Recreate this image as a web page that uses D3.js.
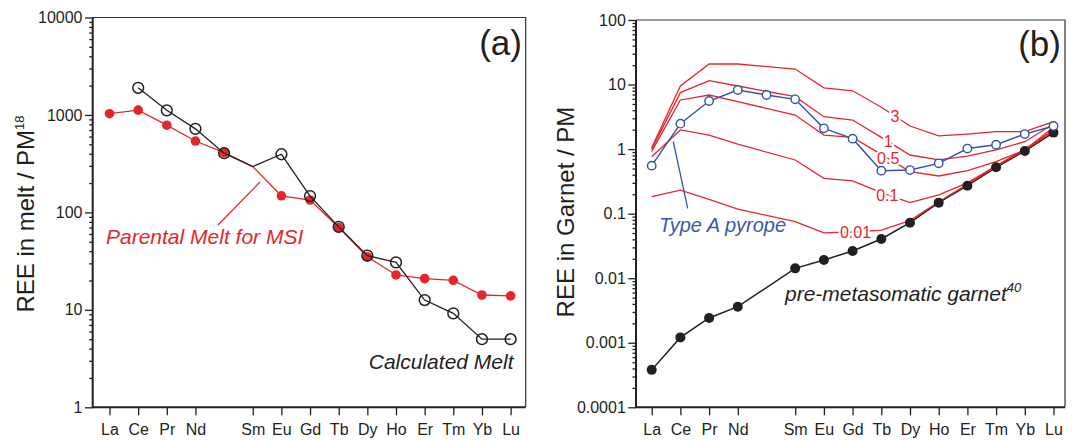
<!DOCTYPE html>
<html>
<head>
<meta charset="utf-8">
<script src="https://cdn.jsdelivr.net/npm/d3@7"></script>
<style>
  body { margin: 0; background: #fff; }
  svg { display: block; }
  text { font-family: "Liberation Sans", Arial, Helvetica, sans-serif; fill: #231f20; }
</style>
</head>
<body>
<svg id="chart" width="1072" height="441"></svg>
<script>
// Rare earth element positions along the x axis (Pm keeps its slot but has no tick label)
const elements = ["La","Ce","Pr","Nd","Pm","Sm","Eu","Gd","Tb","Dy","Ho","Er","Tm","Yb","Lu"];
const tickLabels = ["La","Ce","Pr","Nd","Sm","Eu","Gd","Tb","Dy","Ho","Er","Tm","Yb","Lu"];

// (a) melt compositions, primitive-mantle normalised
const parentalMelt   = [1030, 1120, 785, 540, 410, 295, 148, 134, 70, 35, 22.8, 20.9, 20.1, 14.2, 13.9];
const calculatedMelt = [null, 1900, 1115, 720, 405, 296, 395, 147, 71, 36, 30.7, 12.6, 9.2, 5.0, 5.0];
const unplottedPoints = ["Sm"];   // interpolated, drawn on the line without a symbol
const meltTicks = [1, 10, 100, 1000, 10000];

// (b) garnet compositions, primitive-mantle normalised
const typeAPyrope   = [0.553, 2.48, 5.56, 8.23, 6.89, 5.90, 2.10, 1.45, 0.463, 0.474, 0.602, 1.02, 1.17, 1.71, 2.28];
const preMetasomatic = [0.00038, 0.00121, 0.00242, 0.00362, null, 0.0142, 0.0191, 0.0264, 0.0405, 0.0724, 0.148, 0.271, 0.522, 0.935, 1.80];
const model3   = [1.05, 9.5, 20.8, 20.8, null, 17.4, 8.9, 8.0, 4.46, 2.28, 1.60, 1.71, 1.86, 1.86, 2.66];
const model1   = [1.00, 7.5, 11.5, 9.5, null, 6.5, 3.18, 2.82, 1.52, 0.81, 0.68, 0.78, 0.97, 1.30, 2.45];
const model05  = [0.92, 5.77, 6.89, 5.43, null, 3.37, 1.65, 1.52, 0.83, 0.447, 0.383, 0.463, 0.638, 0.968, 2.17];
const model01  = [0.76, 1.98, 1.65, 1.19, null, 0.678, 0.352, 0.321, 0.211, 0.148, 0.195, 0.30, 0.55, 1.00, 1.95];
const model001 = [0.183, 0.232, 0.167, 0.118, null, 0.075, 0.0503, 0.052, 0.0554, 0.078, 0.153, 0.285, 0.54, 0.97, 1.88];
const modelNames = ["3", "1", "0.5", "0.1", "0.01"];
const garnetTicks = [0.0001, 0.001, 0.01, 0.1, 1, 10, 100];

const RED = "#e4262b", BLUE = "#2f55a8", INK = "#231f20";
const svg = d3.select("#chart");

function pts(values) {
  return values.map((v, i) => ({ el: elements[i], v })).filter(d => d.v != null);
}
function minorTicks(domain) {
  const out = [];
  for (let e = Math.round(Math.log10(domain[0])); e < Math.round(Math.log10(domain[1])); e++)
    for (let k = 2; k <= 9; k++) out.push(k * Math.pow(10, e));
  return out;
}
function fmtTick(d) {
  return d >= 1 ? String(d) : d.toFixed(Math.round(-Math.log10(d)));
}

function drawFrame(g, box, x, y, majors) {
  // thin top / right border
  g.append("path")
    .attr("d", `M${box.left},${box.top}H${box.right}V${box.bottom}`)
    .attr("fill", "none").attr("stroke", "#333").attr("stroke-width", 1.2);

  const ya = g.append("g").attr("transform", `translate(${box.left},0)`)
    .call(d3.axisLeft(y).tickValues(majors).tickFormat(fmtTick).tickSize(7.7).tickPadding(2.5).tickSizeOuter(0));
  g.append("g").attr("transform", `translate(${box.left},0)`)
    .call(d3.axisLeft(y).tickValues(minorTicks(y.domain())).tickFormat("").tickSize(3.5).tickSizeOuter(0))
    .call(a => a.select(".domain").remove());
  ya.select(".domain").remove();

  const xa = g.append("g").attr("transform", `translate(0,${box.bottom})`)
    .call(d3.axisBottom(x).tickValues(tickLabels).tickSize(8).tickPadding(8.3).tickSizeOuter(0));
  xa.select(".domain").remove();

  g.selectAll(".tick line").attr("stroke", INK).attr("stroke-width", 1.3);
  g.selectAll(".tick text").attr("font-size", 16).attr("fill", INK)
    .style("font-family", '"Liberation Sans", Arial, sans-serif');

  // heavy left and bottom axis lines
  g.append("path")
    .attr("d", `M${box.left},${box.top}V${box.bottom}H${box.right}`)
    .attr("fill", "none").attr("stroke", INK).attr("stroke-width", 2);
}

function yTitle(g, cx, cy, main, sup) {
  const t = g.append("text")
    .attr("transform", `translate(${cx},${cy}) rotate(-90)`)
    .attr("text-anchor", "middle").attr("font-size", 24);
  t.append("tspan").text(main);
  if (sup) t.append("tspan").attr("font-size", 13).attr("dy", -10).text(sup);
}

/* ---------------- (a) ---------------- */
{
  const box = { left: 92.7, right: 525.7, top: 17.5, bottom: 407.3 };
  const x = d3.scalePoint().domain(elements).range([109.5, 510.6]);
  const y = d3.scaleLog().domain([1, 10000]).range([box.bottom, box.top]);
  const g = svg.append("g");
  drawFrame(g, box, x, y, meltTicks);
  yTitle(g, 34, 214, "REE in melt / PM", "18");

  const line = d3.line().x(d => x(d.el)).y(d => y(d.v));

  const red = pts(parentalMelt);
  g.append("path").attr("d", line(red)).attr("fill", "none").attr("stroke", RED).attr("stroke-width", 1.3);
  g.selectAll(".pm").data(red.filter(d => !unplottedPoints.includes(d.el))).join("circle")
    .attr("cx", d => x(d.el)).attr("cy", d => y(d.v)).attr("r", 4.8).attr("fill", RED);

  const blk = pts(calculatedMelt);
  g.append("path").attr("d", line(blk)).attr("fill", "none").attr("stroke", INK).attr("stroke-width", 1.3);
  g.selectAll(".cm").data(blk.filter(d => !unplottedPoints.includes(d.el))).join("circle")
    .attr("cx", d => x(d.el)).attr("cy", d => y(d.v)).attr("r", 5.4)
    .attr("fill", "none").attr("stroke", INK).attr("stroke-width", 1.5);

  // annotations
  g.append("line").attr("x1", 218).attr("y1", 225).attr("x2", 260).attr("y2", 182)
    .attr("stroke", RED).attr("stroke-width", 1.3);
  g.append("text").attr("x", 106).attr("y", 244).attr("font-size", 21).attr("font-style", "italic")
    .style("fill", RED).text("Parental Melt for MSI");
  g.append("text").attr("x", 513.5).attr("y", 369).attr("font-size", 21).attr("font-style", "italic")
    .attr("text-anchor", "end").text("Calculated Melt");
  g.append("text").attr("x", 522).attr("y", 54.5).attr("font-size", 35).attr("text-anchor", "end").text("(a)");
}

/* ---------------- (b) ---------------- */
{
  const box = { left: 636, right: 1065, top: 20, bottom: 407.3 };
  const x = d3.scalePoint().domain(elements).range([651.7, 1053.5]);
  const y = d3.scaleLog().domain([0.0001, 100]).range([box.bottom, box.top]);
  const g = svg.append("g");
  drawFrame(g, box, x, y, garnetTicks);
  yTitle(g, 573.5, 212, "REE in Garnet / PM");

  const line = d3.line().x(d => x(d.el)).y(d => y(d.v));

  const pre = pts(preMetasomatic);
  g.append("path").attr("d", line(pre)).attr("fill", "none").attr("stroke", INK).attr("stroke-width", 1.5);

  const models = [model3, model1, model05, model01, model001];
  models.forEach(m => {
    g.append("path").attr("d", line(pts(m))).attr("fill", "none").attr("stroke", RED).attr("stroke-width", 1.3);
  });

  // curve labels, placed along each curve between two elements
  const labelAt = [["Tb", 0.48], ["Tb", 0.24], ["Tb", 0.24], ["Tb", 0.21], ["Gd", 0.1]];
  models.forEach((m, k) => {
    const [el, t] = labelAt[k];
    const i = elements.indexOf(el);
    const lx = x(elements[i]) + t * (x(elements[i + 1]) - x(elements[i]));
    const ly = y(m[i]) + t * (y(m[i + 1]) - y(m[i]));
    g.append("text").attr("x", lx).attr("y", ly).attr("dy", "0.36em")
      .attr("text-anchor", "middle").attr("font-size", 16)
      .attr("stroke", "#fff").attr("stroke-width", 4).attr("paint-order", "stroke")
      .style("fill", RED).text(modelNames[k]);
  });

  g.selectAll(".pre").data(pre).join("circle")
    .attr("cx", d => x(d.el)).attr("cy", d => y(d.v)).attr("r", 5).attr("fill", INK);

  const pyr = pts(typeAPyrope);
  g.append("path").attr("d", line(pyr)).attr("fill", "none").attr("stroke", BLUE).attr("stroke-width", 1.4);
  g.selectAll(".pyr").data(pyr).join("circle")
    .attr("cx", d => x(d.el)).attr("cy", d => y(d.v)).attr("r", 4.2)
    .attr("fill", "#fff").attr("stroke", BLUE).attr("stroke-width", 1.4);

  g.append("line").attr("x1", 673.3).attr("y1", 141.7).attr("x2", 687.7).attr("y2", 208.3)
    .attr("stroke", BLUE).attr("stroke-width", 1.3);
  g.append("text").attr("x", 659).attr("y", 231.5).attr("font-size", 20).attr("font-style", "italic")
    .style("fill", "#3558ad").text("Type A pyrope");
  const pg = g.append("text").attr("x", 785).attr("y", 301).attr("font-size", 21).attr("font-style", "italic");
  pg.append("tspan").text("pre-metasomatic garnet");
  pg.append("tspan").attr("font-size", 13).attr("dy", -9).text("40");
  g.append("text").attr("x", 1061).attr("y", 55.5).attr("font-size", 35).attr("text-anchor", "end").text("(b)");
}
</script>
</body>
</html>
